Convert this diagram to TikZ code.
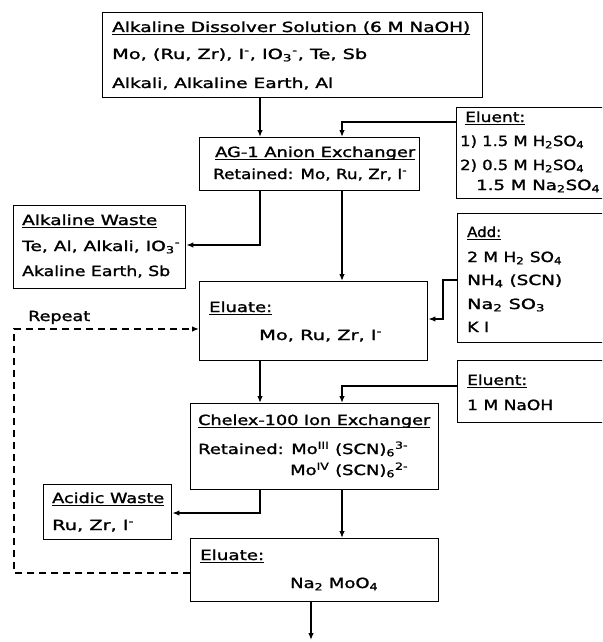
\documentclass[tikz,border=0pt]{standalone}
\usepackage{fontspec}
\setmainfont{DejaVu Sans}[FakeBold=1.3]
\usepackage{graphicx}
\usetikzlibrary{arrows.meta}
\newcommand\ulx[1]{\leavevmode\setbox0\hbox{#1}\rlap{\rule[-3pt]{\wd0}{1.2pt}}\box0}
\newcommand\sbx[1]{\textsubscript{#1}}
\newcommand\spx[1]{\textsuperscript{#1}}
\newcommand\fitbox[2]{\resizebox{#1pt}{\height}{#2}}
\tikzset{
  box/.style={draw, line width=1.4pt, inner sep=0pt, anchor=north west},
  txt/.style={inner sep=0pt, anchor=base west, font=\fontsize{14}{16}\selectfont},
  arr/.style={line width=1.3pt, -{Latex[length=7pt,width=5.5pt]}},
}
\begin{document}
\begin{tikzpicture}[x=1pt,y=-1pt]
\clip (0,0) rectangle (602,642);
\fill[white] (0,0) rectangle (602,642);
% boxes
\node[box, minimum width=380pt, minimum height=85pt] (top) at (102,12) {};
\node[box, minimum width=220pt, minimum height=53pt] (ag) at (199,137) {};
\node[box, minimum width=170pt, minimum height=91pt] (el1) at (456,107) {};
\node[box, minimum width=172pt, minimum height=83pt] (aw) at (13,205) {};
\node[box, minimum width=170pt, minimum height=129pt] (add) at (457,213) {};
\node[box, minimum width=228pt, minimum height=79pt] (el) at (199,281) {};
\node[box, minimum width=170pt, minimum height=62pt] (el2) at (457,360) {};
\node[box, minimum width=248pt, minimum height=86pt] (ch) at (190,403) {};
\node[box, minimum width=128pt, minimum height=55pt] (ac) at (43,484) {};
\node[box, minimum width=248pt, minimum height=63pt] (elb) at (190,538) {};
% texts
\node[txt] (t1) at (112,32) {\fitbox{358}{\ulx{Alkaline Dissolver Solution (6 M NaOH)}}};
\node[txt] (t2) at (112,59) {\fitbox{255}{Mo, (Ru, Zr), I\spx{-}, IO\sbx{3}\spx{-}, Te, Sb}};
\node[txt] (t3) at (112,88) {\fitbox{221}{Alkali, Alkaline Earth, Al}};
\node[txt] (a1) at (215,157) {\fitbox{200}{\ulx{AG-1 Anion Exchanger}}};
\node[txt] (a2) at (213,179) {\fitbox{194}{Retained: Mo, Ru, Zr, I\spx{-}}};
\node[txt] (e1) at (465,122) {\fitbox{60}{\ulx{Eluent:}}};
\node[txt] (e2) at (460,146) {\fitbox{124}{1) 1.5 M H\sbx{2}SO\sbx{4}}};
\node[txt] (e3) at (460,170) {\fitbox{124}{2) 0.5 M H\sbx{2}SO\sbx{4}}};
\node[txt] (e4) at (476,190) {\fitbox{124}{1.5 M Na\sbx{2}SO\sbx{4}}};
\node[txt] (w1) at (22,225) {\fitbox{135}{\ulx{Alkaline Waste}}};
\node[txt] (w2) at (22,251) {\fitbox{158}{Te, Al, Alkali, IO\sbx{3}\spx{-}}};
\node[txt] (w3) at (22,276) {\fitbox{148}{Akaline Earth, Sb}};
\node[txt] (d1) at (467,237) {\fitbox{34}{\ulx{Add:}}};
\node[txt] (d2) at (467,262) {\fitbox{95}{2 M H\sbx{2} SO\sbx{4}}};
\node[txt] (d3) at (467,285) {\fitbox{95}{NH\sbx{4} (SCN)}};
\node[txt] (d4) at (467,309) {\fitbox{78}{Na\sbx{2} SO\sbx{3}}};
\node[txt] (d5) at (467,332) {\fitbox{22}{K I}};
\node[txt] (u1) at (209,312) {\fitbox{63}{\ulx{Eluate:}}};
\node[txt] (u2) at (259,340) {\fitbox{123}{Mo, Ru, Zr, I\spx{-}}};
\node[txt] (rp) at (28,321) {\fitbox{62}{Repeat}};
\node[txt] (f1) at (467,385) {\fitbox{60}{\ulx{Eluent:}}};
\node[txt] (f2) at (467,410) {\fitbox{86}{1 M NaOH}};
\node[txt] (c1) at (198,425) {\fitbox{232}{\ulx{Chelex-100 Ion Exchanger}}};
\node[txt] (c2) at (198,454) {\fitbox{210}{Retained: Mo\spx{III} (SCN)\sbx{6}\spx{3-}}};
\node[txt] (c3) at (290,475) {\fitbox{118}{Mo\spx{IV} (SCN)\sbx{6}\spx{2-}}};
\node[txt] (k1) at (52,503) {\fitbox{112}{\ulx{Acidic Waste}}};
\node[txt] (k2) at (52,530) {\fitbox{82}{Ru, Zr, I\spx{-}}};
\node[txt] (b1) at (200,560) {\fitbox{64}{\ulx{Eluate:}}};
\node[txt] (b2) at (290,588) {\fitbox{88}{Na\sbx{2} MoO\sbx{4}}};
% helper coordinates
\coordinate (cA) at (260,0);
\coordinate (cB) at (342,0);
\coordinate (cOut) at (311,0);
\coordinate (cLeft) at (14,0);
\coordinate (xAdd) at (443,0);
\coordinate (rE1) at (0,122);
\coordinate (rAW) at (0,245);
\coordinate (rAdd) at (0,280);
\coordinate (rAddIn) at (0,319);
\coordinate (rE2) at (0,386);
\coordinate (rAc) at (0,513);
\coordinate (rRep1) at (0,329);
\coordinate (rRep2) at (0,573);
\coordinate (outEnd) at (311,640);
% connectors
\draw[arr] (top.south -| cA) -- (ag.north -| cA);
\draw[arr] (el1.west |- rE1) -| (ag.north -| cB);
\draw[arr] (ag.south -| cA) |- (aw.east |- rAW);
\draw[arr] (ag.south -| cB) -- (el.north -| cB);
\draw[arr] (add.west |- rAdd) -| (xAdd |- rAddIn) -- (el.east |- rAddIn);
\draw[arr] (el.south -| cA) -- (ch.north -| cA);
\draw[arr] (el2.west |- rE2) -| (ch.north -| cB);
\draw[arr] (ch.south -| cA) |- (ac.east |- rAc);
\draw[arr] (ch.south -| cB) -- (elb.north -| cB);
\draw[arr] (elb.south -| cOut) -- (outEnd);
\draw[arr, dash pattern=on 7pt off 5pt] (elb.west |- rRep2) -| (cLeft |- rRep1) -- (el.west |- rRep1);
\end{tikzpicture}
\end{document}
